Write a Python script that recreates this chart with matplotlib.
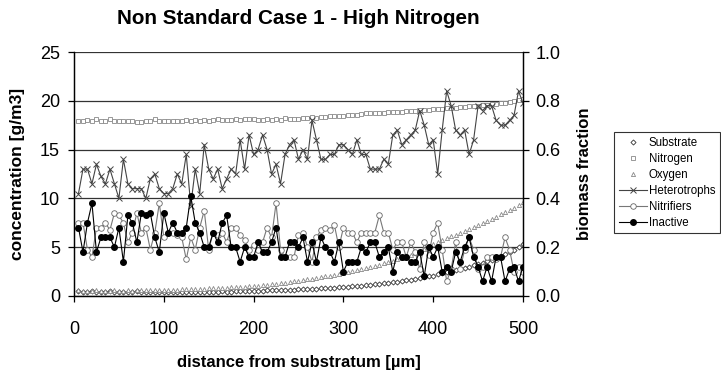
import matplotlib
matplotlib.use("Agg")
from matplotlib import pyplot as plt
from matplotlib.ticker import FormatStrFormatter

plt.rcParams['font.family'] = ['Liberation Sans', 'DejaVu Sans']

# distance from substratum [um]
distance = list(range(5, 505, 5))

# concentrations [g/m3]
substrate = [0.5, 0.4, 0.4, 0.5, 0.4, 0.4, 0.4, 0.5, 0.4, 0.4, 0.4, 0.4, 0.4, 0.5, 0.4, 0.4, 0.4, 0.4, 0.4, 0.4,
             0.4, 0.4, 0.4, 0.4, 0.4, 0.4, 0.4, 0.4, 0.4, 0.4, 0.4, 0.4, 0.5, 0.4, 0.4, 0.5, 0.5, 0.5, 0.5, 0.5,
             0.5, 0.5, 0.6, 0.6, 0.6, 0.6, 0.6, 0.6, 0.6, 0.7, 0.7, 0.7, 0.7, 0.7, 0.8, 0.8, 0.8, 0.8, 0.9, 0.9,
             0.9, 1.0, 1.0, 1.0, 1.1, 1.1, 1.2, 1.2, 1.3, 1.3, 1.4, 1.4, 1.5, 1.6, 1.6, 1.7, 1.8, 1.9, 2.0, 2.1,
             2.3, 2.4, 2.5, 2.6, 2.7, 2.8, 2.9, 3.0, 3.2, 3.3, 3.4, 3.6, 3.7, 3.9, 4.1, 4.3, 4.5, 4.7, 5.0, 5.3]
nitrogen = [17.9, 17.9, 18.0, 17.9, 18.1, 17.9, 17.9, 18.1, 17.9, 17.9, 17.9, 17.9, 17.9, 17.8, 17.8, 17.9, 17.9, 18.1, 17.9, 17.9,
            17.9, 17.9, 17.9, 17.9, 18.0, 17.9, 18.0, 17.9, 18.0, 17.9, 18.0, 18.1, 18.0, 18.0, 18.0, 18.1, 18.0, 18.1, 18.1, 18.1,
            18.0, 18.0, 18.1, 18.0, 18.1, 18.0, 18.2, 18.1, 18.1, 18.1, 18.2, 18.2, 18.3, 18.2, 18.3, 18.3, 18.4, 18.4, 18.4, 18.4,
            18.5, 18.5, 18.5, 18.6, 18.7, 18.7, 18.7, 18.8, 18.8, 18.9, 18.9, 18.9, 18.9, 19.0, 19.0, 19.0, 19.1, 19.1, 19.1, 19.2,
            19.2, 19.2, 19.3, 19.3, 19.3, 19.4, 19.4, 19.5, 19.5, 19.5, 19.6, 19.6, 19.7, 19.7, 19.8, 19.8, 19.9, 20.0, 20.1, 20.2]
oxygen = [0.6, 0.5, 0.5, 0.5, 0.6, 0.5, 0.5, 0.5, 0.6, 0.5, 0.5, 0.6, 0.5, 0.6, 0.6, 0.6, 0.6, 0.6, 0.6, 0.6,
          0.6, 0.6, 0.6, 0.7, 0.7, 0.7, 0.7, 0.7, 0.7, 0.8, 0.8, 0.8, 0.8, 0.8, 0.9, 0.9, 0.9, 0.9, 1.0, 1.0,
          1.0, 1.1, 1.1, 1.2, 1.2, 1.3, 1.3, 1.4, 1.5, 1.5, 1.6, 1.7, 1.7, 1.8, 1.9, 2.0, 2.1, 2.2, 2.3, 2.4,
          2.5, 2.6, 2.7, 2.8, 2.9, 3.0, 3.1, 3.2, 3.4, 3.5, 3.6, 3.8, 3.9, 4.0, 4.2, 4.4, 4.6, 4.8, 5.0, 5.3,
          5.5, 5.7, 5.9, 6.1, 6.3, 6.5, 6.7, 6.9, 7.1, 7.3, 7.5, 7.7, 7.9, 8.1, 8.4, 8.6, 8.8, 9.0, 9.3, 9.6]

# biomass fractions
heterotrophs = [0.42, 0.52, 0.52, 0.46, 0.54, 0.49, 0.46, 0.52, 0.46, 0.40,
                0.56, 0.46, 0.44, 0.44, 0.44, 0.40, 0.48, 0.50, 0.44, 0.42,
                0.42, 0.44, 0.50, 0.46, 0.58, 0.37, 0.52, 0.42, 0.62, 0.52,
                0.48, 0.52, 0.44, 0.48, 0.52, 0.50, 0.64, 0.52, 0.66, 0.58,
                0.60, 0.66, 0.60, 0.50, 0.54, 0.46, 0.58, 0.62, 0.64, 0.56,
                0.60, 0.56, 0.72, 0.64, 0.56, 0.56, 0.58, 0.58, 0.62, 0.62,
                0.60, 0.58, 0.64, 0.58, 0.58, 0.52, 0.52, 0.52, 0.56, 0.54,
                0.66, 0.68, 0.62, 0.64, 0.66, 0.68, 0.76, 0.70, 0.62, 0.64,
                0.50, 0.68, 0.84, 0.78, 0.68, 0.66, 0.68, 0.58, 0.64, 0.78,
                0.76, 0.78, 0.78, 0.72, 0.70, 0.70, 0.72, 0.74, 0.84, 0.79]
nitrifiers = [0.30, 0.30, 0.19, 0.16, 0.28, 0.28, 0.30, 0.27, 0.34, 0.33,
              0.30, 0.22, 0.26, 0.34, 0.26, 0.28, 0.19, 0.26, 0.38, 0.24,
              0.26, 0.26, 0.25, 0.24, 0.15, 0.24, 0.19, 0.28, 0.35, 0.19,
              0.26, 0.25, 0.26, 0.22, 0.28, 0.28, 0.25, 0.23, 0.19, 0.21,
              0.19, 0.22, 0.28, 0.24, 0.38, 0.19, 0.16, 0.16, 0.16, 0.25,
              0.26, 0.20, 0.14, 0.24, 0.27, 0.28, 0.27, 0.29, 0.20, 0.28,
              0.26, 0.26, 0.22, 0.26, 0.26, 0.26, 0.26, 0.33, 0.26, 0.26,
              0.19, 0.22, 0.22, 0.16, 0.22, 0.18, 0.11, 0.22, 0.17, 0.26,
              0.30, 0.19, 0.06, 0.11, 0.22, 0.11, 0.19, 0.24, 0.19, 0.11,
              0.12, 0.16, 0.16, 0.15, 0.16, 0.24, 0.19, 0.10, 0.12, 0.10]
inactive = [0.28, 0.18, 0.30, 0.38, 0.18, 0.24, 0.24, 0.24, 0.20, 0.28,
            0.14, 0.33, 0.30, 0.22, 0.34, 0.33, 0.34, 0.24, 0.18, 0.34,
            0.26, 0.30, 0.26, 0.26, 0.28, 0.41, 0.30, 0.26, 0.20, 0.20,
            0.26, 0.22, 0.30, 0.33, 0.20, 0.20, 0.14, 0.20, 0.16, 0.16,
            0.22, 0.18, 0.18, 0.22, 0.28, 0.16, 0.16, 0.22, 0.22, 0.20,
            0.24, 0.14, 0.22, 0.14, 0.24, 0.20, 0.18, 0.14, 0.22, 0.10,
            0.14, 0.14, 0.14, 0.20, 0.18, 0.22, 0.22, 0.16, 0.18, 0.20,
            0.10, 0.18, 0.16, 0.16, 0.14, 0.14, 0.18, 0.08, 0.20, 0.16,
            0.20, 0.10, 0.12, 0.10, 0.18, 0.14, 0.20, 0.24, 0.16, 0.12,
            0.06, 0.12, 0.06, 0.16, 0.16, 0.06, 0.11, 0.12, 0.06, 0.12]

fig = plt.figure(figsize=(7.21, 3.78), dpi=100)
ax = fig.add_axes([74 / 721, 82 / 378, 449 / 721, 244 / 378])
ax2 = ax.twinx()

ax.set_xlim(0, 500)
ax.set_ylim(0, 25)
ax2.set_ylim(0, 1)
ax.set_xticks([0, 100, 200, 300, 400, 500])
ax.set_yticks([0, 5, 10, 15, 20, 25])
ax2.set_yticks([0, 0.2, 0.4, 0.6, 0.8, 1.0])
ax2.yaxis.set_major_formatter(FormatStrFormatter('%.1f'))

ax.yaxis.grid(True, color='#333333', lw=0.9)
ax.set_axisbelow(True)
for a in (ax, ax2):
    a.tick_params(labelsize=13, direction='out', length=4, width=0.9)
    for s in a.spines.values():
        s.set_linewidth(0.9)
    a.spines['top'].set_visible(False)
ax.tick_params(axis='x', pad=14)
ax.tick_params(axis='y', pad=6)
ax2.tick_params(axis='y', pad=5)

h1, = ax.plot(distance, substrate, ls='none', marker='D', ms=2.6, mfc='white', mec='#333333', mew=0.6, label='Substrate')
h2, = ax.plot(distance, nitrogen, ls='none', marker='s', ms=2.8, mfc='white', mec='#888888', mew=0.6, label='Nitrogen')
h3, = ax.plot(distance, oxygen, ls='none', marker='^', ms=3.0, mfc='white', mec='#888888', mew=0.6, label='Oxygen')
h4, = ax2.plot(distance, heterotrophs, color='#444444', lw=0.8, marker='x', ms=5, mew=0.7, label='Heterotrophs')
h5, = ax2.plot(distance, nitrifiers, color='#777777', lw=0.8, marker='o', ms=4, mfc='white', mec='#666666', mew=0.6, label='Nitrifiers')
h6, = ax2.plot(distance, inactive, color='black', lw=0.8, marker='o', ms=4, mfc='black', mec='black', label='Inactive')

fig.text(298.5 / 721, 1 - 18 / 378, 'Non Standard Case 1 - High Nitrogen', fontsize=14.9, fontweight='bold',
         ha='center', va='center')
ax.set_xlabel('distance from substratum [\u00b5m]', fontsize=12, fontweight='bold')
ax.xaxis.set_label_coords(0.5, (296 - 355) / 244)
ax.set_ylabel('concentration [g/m3]', fontsize=12.5, fontweight='bold')
ax.yaxis.set_label_coords((25 - 74) / 449, 0.5)
ax2.set_ylabel('biomass fraction', fontsize=12, fontweight='bold')
ax2.yaxis.set_label_coords((577 - 74) / 449, 0.5)

leg = fig.legend(handles=[h1, h2, h3, h4, h5, h6], loc='upper left', bbox_to_anchor=(614 / 721, 1 - 132 / 378),
                 fontsize=8.3, frameon=True, fancybox=False, edgecolor='black', handlelength=2.5,
                 borderpad=0.4, borderaxespad=0, labelspacing=0.35, handletextpad=0.1)
leg.get_frame().set_linewidth(0.8)

fig.savefig('out.png', dpi=100)
